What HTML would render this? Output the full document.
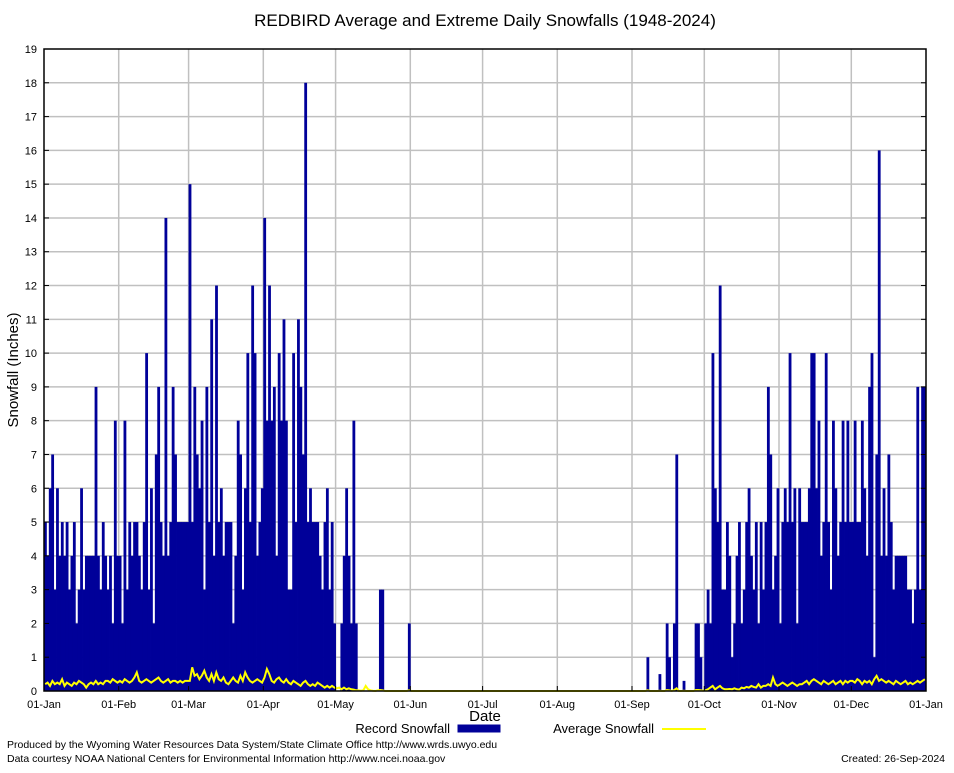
<!DOCTYPE html>
<html><head><meta charset="utf-8"><style>
html,body{margin:0;padding:0;background:#fff;}
svg text{font-family:"Liberation Sans","DejaVu Sans",sans-serif;}
</style></head><body>
<svg id="chart" width="954" height="768" xmlns="http://www.w3.org/2000/svg">
<rect width="954" height="768" fill="#fff"/>
<text x="485" y="26" font-size="17" text-anchor="middle">REDBIRD Average and Extreme Daily Snowfalls (1948-2024)</text>
<g id="grid"></g>
<g id="bars"></g>
<g id="avg"></g>
<rect x="44" y="49" width="882" height="642" fill="none" stroke="#000" stroke-width="1.5"/>
<g id="axes"></g>
<text transform="translate(18,370) rotate(-90)" font-size="15" text-anchor="middle">Snowfall (Inches)</text>
<text x="485" y="721" font-size="15" text-anchor="middle">Date</text>
<g>
<text x="450" y="733" font-size="13" text-anchor="end">Record Snowfall</text>
<rect x="458" y="725" width="42" height="7" fill="#000099" stroke="#000099"/>
<text x="654" y="733" font-size="13" text-anchor="end">Average Snowfall</text>
<line x1="662" y1="729" x2="706" y2="729" stroke="#ffff00" stroke-width="2"/>
</g>
<text x="7" y="748" font-size="10.5">Produced by the Wyoming Water Resources Data System/State Climate Office http://www.wrds.uwyo.edu</text>
<text x="7" y="762" font-size="10.5">Data courtesy NOAA National Centers for Environmental Information http://www.ncei.noaa.gov</text>
<text x="945" y="762" font-size="10.5" text-anchor="end">Created:  26-Sep-2024</text>
</svg>
<script>
const monthLabels=["01-Jan","01-Feb","01-Mar","01-Apr","01-May","01-Jun","01-Jul","01-Aug","01-Sep","01-Oct","01-Nov","01-Dec","01-Jan"];
const monthLengths=[31,29,31,30,31,30,31,31,30,31,30,31];
const yTicks=[0,1,2,3,4,5,6,7,8,9,10,11,12,13,14,15,16,17,18,19];
const recJan=[5,4,6,7,3,6,4,5,4,5,3,4,5,2,3,6,3,4,4,4,4,9,4,3,5,4,3,4,2,8,4];
const recFeb=[4,2,8,3,5,4,5,5,4,3,5,10,3,6,2,7,9,5,4,14,4,5,9,7,5,5,5,5,5];
const recMar=[15,5,9,7,6,8,3,9,5,11,4,12,5,6,4,5,5,5,2,4,8,7,3,6,10,5,12,10,4,5,6];
const recApr=[14,8,12,8,9,4,10,8,11,8,3,3,10,5,11,9,7,18,5,6,5,5,5,4,3,5,6,3,5,2];
const recMay=[0,0,2,4,6,4,2,8,2,0,0,0,0,0,0,0,0,0,3,3,0,0,0,0,0,0,0,0,0,0,2];
const recJun=[0];
const recJul=[0];
const recAug=[0];
const recSep=[0,0,0,0,0,0,1,0,0,0,0,0.5,0,0,2,1,0,2,7,0,0,0.3,0,0,0,0,2,2,1,0];
const recOct=[2,3,2,10,6,5,12,3,3,5,4,1,2,4,5,2,3,5,6,4,3,5,2,5,3,5,9,7,3,4,6];
const recNov=[2,5,6,5,10,5,6,2,6,5,5,5,6,10,10,6,8,4,5,10,5,3,8,6,4,5,8,5,8,5];
const recDec=[5,8,5,5,8,6,4,9,10,1,7,16,4,6,4,7,5,3,4,4,4,4,4,3,3,2,3,9,3,9,9];
const avgJan=[0.2,0.25,0.15,0.3,0.2,0.25,0.2,0.35,0.15,0.25,0.2,0.15,0.25,0.2,0.3,0.25,0.2,0.1,0.2,0.25,0.2,0.3,0.2,0.25,0.2,0.3,0.3,0.25,0.35,0.3,0.25];
const avgFeb=[0.3,0.25,0.35,0.3,0.25,0.3,0.4,0.55,0.3,0.25,0.3,0.35,0.3,0.25,0.3,0.35,0.4,0.3,0.25,0.3,0.35,0.25,0.3,0.3,0.25,0.3,0.25,0.3,0.3];
const avgMar=[0.3,0.7,0.45,0.5,0.35,0.45,0.6,0.4,0.3,0.5,0.3,0.55,0.35,0.3,0.4,0.25,0.2,0.3,0.4,0.3,0.25,0.45,0.3,0.55,0.4,0.3,0.25,0.3,0.35,0.3,0.25];
const avgApr=[0.4,0.65,0.5,0.3,0.25,0.35,0.4,0.3,0.25,0.35,0.25,0.2,0.3,0.25,0.2,0.15,0.25,0.3,0.2,0.15,0.2,0.15,0.25,0.2,0.15,0.1,0.15,0.1,0.15,0.1];
const avgMay=[0.08,0.1,0.05,0.1,0.05,0.08,0.05,0.04,0.02,0.02,0.01,0.02,0.15,0.05,0.02,0.01,0,0.02,0.03,0.02,0,0,0,0,0,0,0,0,0,0,0.02];
const avgJun=[0];
const avgJul=[0];
const avgAug=[0];
const avgSep=[0,0,0,0,0,0,0.02,0,0,0,0,0.01,0,0,0.03,0.02,0,0.03,0.08,0,0,0.01,0,0,0,0,0.03,0.03,0.02,0.01];
const avgOct=[0.02,0.05,0.1,0.15,0.05,0.1,0.15,0.08,0.05,0.05,0.06,0.05,0.08,0.05,0.04,0.1,0.08,0.12,0.1,0.15,0.12,0.1,0.2,0.1,0.15,0.15,0.2,0.15,0.4,0.2,0.15];
const avgNov=[0.2,0.25,0.2,0.15,0.2,0.25,0.2,0.15,0.2,0.2,0.25,0.3,0.2,0.3,0.35,0.3,0.25,0.2,0.3,0.25,0.2,0.25,0.3,0.2,0.25,0.3,0.2,0.3,0.25,0.3];
const avgDec=[0.3,0.25,0.35,0.3,0.2,0.3,0.25,0.3,0.2,0.35,0.45,0.3,0.35,0.3,0.25,0.3,0.25,0.2,0.3,0.25,0.2,0.25,0.3,0.2,0.25,0.2,0.25,0.3,0.25,0.3,0.35];

const recMonths=[recJan,recFeb,recMar,recApr,recMay,recJun,recJul,recAug,recSep,recOct,recNov,recDec];
const avgMonths=[avgJan,avgFeb,avgMar,avgApr,avgMay,avgJun,avgJul,avgAug,avgSep,avgOct,avgNov,avgDec];
const NS="http://www.w3.org/2000/svg";
const X0=44,X1=926,Y0=691,Y1=49,YMAX=19,NDAYS=366;
function xScale(d){return X0+d*(X1-X0)/NDAYS;}
function yScale(v){return Y0-v*(Y0-Y1)/YMAX;}
function mk(tag,attrs,parent){const e=document.createElementNS(NS,tag);for(const k in attrs)e.setAttribute(k,attrs[k]);parent.appendChild(e);return e;}
const grid=document.getElementById('grid'),axes=document.getElementById('axes'),bars=document.getElementById('bars'),avgG=document.getElementById('avg');
const monthStart=[0];for(let i=0;i<12;i++)monthStart.push(monthStart[i]+monthLengths[i]);
yTicks.forEach(t=>{
  const y=yScale(t);
  if(t>0&&t<YMAX){const l=mk('line',{x1:X0,x2:X1,y1:y,y2:y,stroke:'#c0c0c0','stroke-width':1.5},grid);
  
  }
  const tk=mk('line',{x1:X0,x2:X0+5,y1:y,y2:y,stroke:'#000'},axes);
  
  
  const tk2=mk('line',{x1:X1-5,x2:X1,y1:y,y2:y,stroke:'#000'},axes);
  
  
  const tx=mk('text',{x:37,y:y+4,'font-size':11,'text-anchor':'end','font-family':'Liberation Serif, serif'},axes);
  tx.textContent=t;
  
  
});
monthLabels.forEach((lab,i)=>{
  const x=xScale(monthStart[i]);
  if(i>0&&i<12){const l=mk('line',{x1:x,x2:x,y1:Y1,y2:Y0,stroke:'#c0c0c0','stroke-width':1.5},grid);
  
  }
  const tk=mk('line',{x1:x,x2:x,y1:Y0-5,y2:Y0,stroke:'#000'},axes);
  
  
  const tx=mk('text',{x:x,y:708,'font-size':11,'text-anchor':'middle','font-family':'Liberation Serif, serif'},axes);
  tx.textContent=lab;
  
  
});
const w=(X1-X0)/NDAYS;
let pts=[];
for(let m=0;m<12;m++){
  for(let d=0;d<monthLengths[m];d++){
    const day=monthStart[m]+d;
    const r=recMonths[m][d]||0, a=avgMonths[m][d]||0;
    if(r>0){
      const y=yScale(r);
      const b=mk('rect',{x:xScale(day),y:y,width:w+0.4,height:Y0-y,fill:'#000099'},bars);
      
      
    }
    pts.push(xScale(day+0.5).toFixed(1)+','+yScale(a).toFixed(1));
  }
}
const pl=mk('polyline',{points:pts.join(' '),fill:'none',stroke:'#ffff00','stroke-width':2},avgG);


</script>
</body></html>
